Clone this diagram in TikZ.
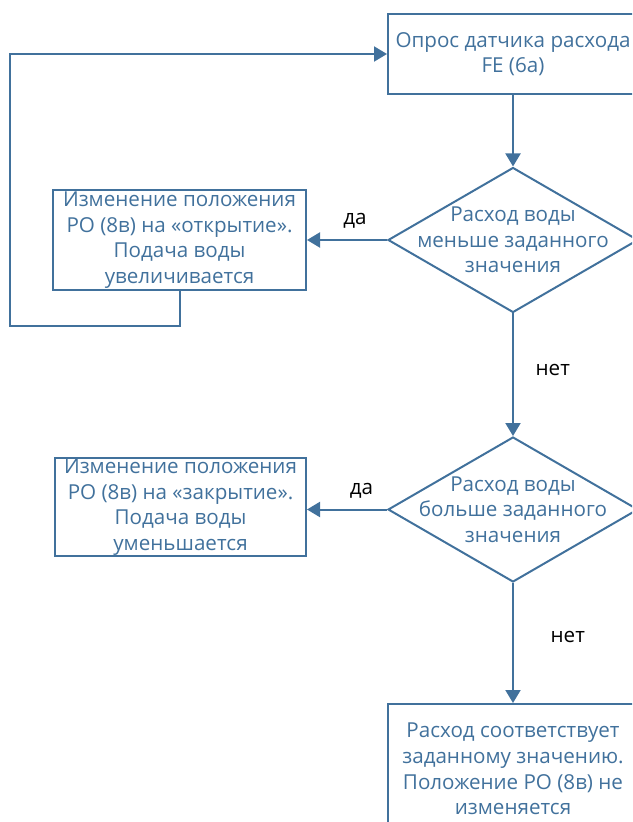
\documentclass[tikz,border=0pt]{standalone}
\usepackage{fontspec}
\setmainfont{Open Sans}
\usetikzlibrary{shapes.geometric,arrows.meta,positioning}
\definecolor{vblue}{HTML}{41719C}
\tikzset{
  block/.style={draw=vblue, line width=1pt, rectangle, text=vblue, align=center,
    minimum width=125pt, inner ysep=0pt, font=\fontsize{10.3}{12.8}\selectfont},
  decision/.style={draw=vblue, line width=1pt, diamond, inner sep=0pt,
    minimum width=125pt, minimum height=72.5pt},
  dtext/.style={text=vblue, align=center, font=\fontsize{10.3}{12.8}\selectfont},
  line/.style={draw=vblue, line width=1pt, -{Triangle[width=7.5pt,length=6.5pt]}},
  answer/.style={font=\fontsize{10.3}{12.8}\selectfont}
}
\begin{document}
\begin{tikzpicture}[x=0.5pt, y=-0.5pt]
    \useasboundingbox (0,0) rectangle (632,822);
    \clip (0,0) rectangle (632,822);

    \node[block, minimum height=40pt] (poll) at (513,54) {Опрос датчика расхода\\FE (6а)};
    \node[decision, label={[dtext]center:{Расход воды\\меньше заданного\\значения}}] (less) at (513,240) {};
    \node[block, minimum width=126.5pt, minimum height=50pt] (open) at (179.5,240) {Изменение положения\\РО (8в) на «открытие».\\Подача воды\\увеличивается};
    \node[decision, label={[dtext]center:{Расход воды\\больше заданного\\значения}}] (more) at (513,509.5) {};
    \node[block, minimum width=125.5pt, minimum height=49pt] (close) at (180.5,507) {Изменение положения\\РО (8в) на «закрытие».\\Подача воды\\уменьшается};
    \node[block, minimum height=65pt] (keep) at (513,769) {Расход соответствует\\заданному значению.\\Положение РО (8в) не\\изменяется};
    \coordinate (loopcorner) at (10,326);

    \draw[line] (poll) -- (less);
    \draw[line] (less.west) -- (open.east) node[answer, pos=0.4, above=2pt] {да};
    \draw[line] (open.south) |- (loopcorner) |- (poll.west);
    \draw[line] (less.south) -- (more.north) node[answer, pos=0.46, right=7.5pt] {нет};
    \draw[line] (more.west) -- (close.east |- more.west) node[answer, pos=0.32, above=2pt] {да};
    \draw[line] (more.south) -- (keep.north) node[answer, pos=0.45, right=15pt] {нет};
\end{tikzpicture}
\end{document}
